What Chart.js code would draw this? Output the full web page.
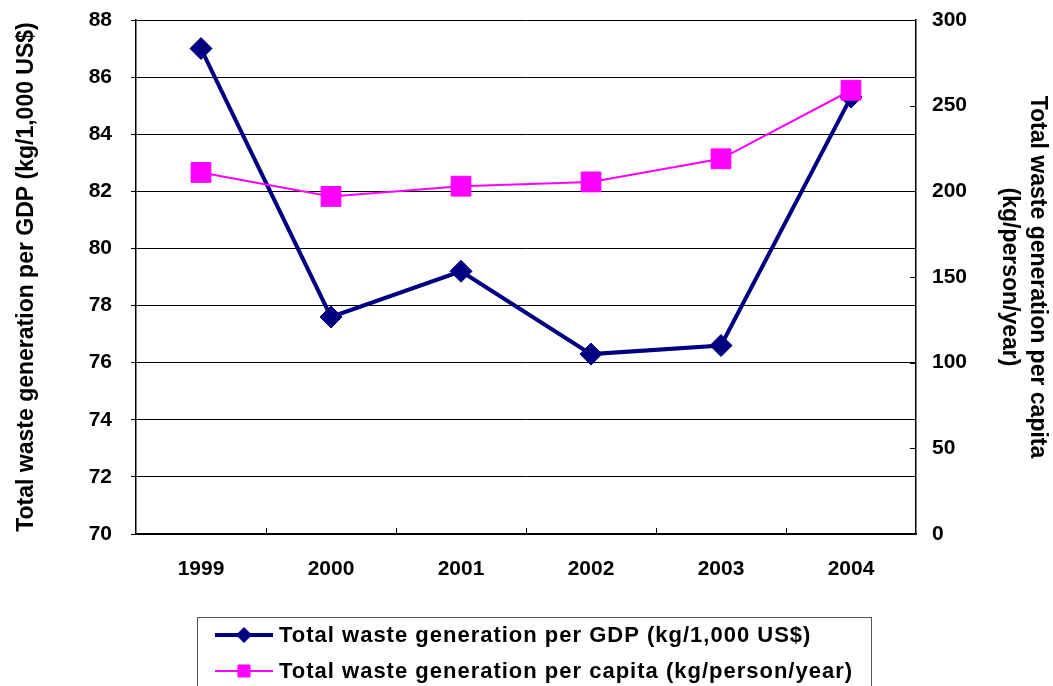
<!DOCTYPE html>
<html>
<head>
<meta charset="utf-8">
<title>Total waste generation</title>
<script src="https://cdn.jsdelivr.net/npm/chart.js@4/dist/chart.umd.min.js"></script>
<style>
  html, body { margin: 0; padding: 0; background: #fff; }
  #chart { display: block; }
</style>
</head>
<body>
<canvas id="chart" width="1053" height="686"></canvas>
<script>
// Years on the category axis
const years = ['1999', '2000', '2001', '2002', '2003', '2004'];
// Total waste generation per GDP (kg/1,000 US$), left axis
const wastePerGdp = [87.0, 77.6, 79.2, 76.3, 76.6, 85.3];
// Total waste generation per capita (kg/person/year), right axis
const wastePerCapita = [211, 197, 203, 205.5, 219, 259];

const gdpLabel = 'Total waste generation per GDP (kg/1,000 US$)';
const capitaLabel = 'Total waste generation per capita (kg/person/year)';
const leftTitle = 'Total waste generation per GDP (kg/1,000 US$)';
const rightTitle = ['Total waste generation per capita', '(kg/person/year)'];

const NAVY = '#000080';
const MAGENTA = '#FF00FF';
const FONT = '"Liberation Sans", Arial, sans-serif';

// Framed legend below the plot, one entry per row
const boxedLegend = {
  id: 'boxedLegend',
  afterDraw(chart) {
    const ctx = chart.ctx;
    ctx.save();
    ctx.strokeStyle = '#555';
    ctx.lineWidth = 1;
    ctx.strokeRect(197.5, 617.5, 674, 90);
    const rows = [
      { ds: chart.data.datasets[0], y: 635, lw: 4, style: 'rectRot', r: 7.5 },
      { ds: chart.data.datasets[1], y: 671, lw: 2, style: 'rect', r: 8.5 }
    ];
    ctx.font = 'bold 22px ' + FONT;
    ctx.textBaseline = 'middle';
    ctx.textAlign = 'left';
    if ('letterSpacing' in ctx) ctx.letterSpacing = '1px';
    rows.forEach(row => {
      ctx.strokeStyle = row.ds.borderColor;
      ctx.lineWidth = row.lw;
      ctx.beginPath();
      ctx.moveTo(215, row.y);
      ctx.lineTo(273, row.y);
      ctx.stroke();
      ctx.fillStyle = row.ds.borderColor;
      ctx.lineWidth = 1;
      Chart.helpers.drawPoint(ctx, { pointStyle: row.style, radius: row.r, borderWidth: 1, rotation: 0 }, 244, row.y);
      ctx.fillStyle = '#000';
      ctx.fillText(row.ds.label, 279, row.y + 1);
    });
    ctx.restore();
  }
};

// Short tick marks pointing into the plot: category dividers on the x axis,
// value marks on the right-hand axis
const innerTicks = {
  id: 'innerTicks',
  afterDatasetsDraw(chart) {
    const ctx = chart.ctx;
    const area = chart.chartArea;
    const xs = chart.scales.x;
    const y1 = chart.scales.y1;
    ctx.save();
    ctx.strokeStyle = '#000';
    ctx.lineWidth = 1;
    ctx.beginPath();
    for (let i = 1; i < xs.ticks.length; i++) {
      const px = Math.round((xs.getPixelForTick(i - 1) + xs.getPixelForTick(i)) / 2) + 0.5;
      ctx.moveTo(px, area.bottom);
      ctx.lineTo(px, area.bottom - 6);
    }
    y1.ticks.forEach(t => {
      const py = Math.round(y1.getPixelForValue(t.value)) + 0.5;
      ctx.moveTo(area.right, py);
      ctx.lineTo(area.right - 6, py);
    });
    ctx.stroke();
    ctx.restore();
  }
};

const whiteBackground = {
  id: 'whiteBackground',
  beforeDraw(chart) {
    const ctx = chart.ctx;
    ctx.save();
    ctx.fillStyle = '#fff';
    ctx.fillRect(0, 0, chart.width, chart.height);
    ctx.restore();
  }
};

// Keep the plot edges fixed regardless of tick label overhang
function pinVertical(scale, width) {
  scale.width = width;
  scale.paddingTop = 0;
  scale.paddingBottom = 0;
}

new Chart(document.getElementById('chart'), {
  type: 'line',
  data: {
    labels: years,
    datasets: [
      {
        label: gdpLabel,
        data: wastePerGdp,
        yAxisID: 'y',
        borderColor: NAVY,
        backgroundColor: NAVY,
        borderWidth: 4,
        pointStyle: 'rectRot',
        pointRadius: 11,
        pointHoverRadius: 11,
        pointBorderWidth: 1,
        tension: 0,
        order: 1,
        clip: false
      },
      {
        label: capitaLabel,
        data: wastePerCapita,
        yAxisID: 'y1',
        borderColor: MAGENTA,
        backgroundColor: MAGENTA,
        borderWidth: 2,
        pointStyle: 'rect',
        pointRadius: 14,
        pointHoverRadius: 14,
        pointBorderWidth: 1,
        tension: 0,
        order: 0,
        clip: false
      }
    ]
  },
  options: {
    responsive: false,
    animation: false,
    layout: { padding: { top: 20, left: 0, right: 0, bottom: 0 } },
    plugins: {
      legend: { display: false },
      tooltip: { enabled: false }
    },
    scales: {
      x: {
        type: 'category',
        offset: true,
        grid: {
          offset: true,
          display: false
        },
        border: { display: true, color: '#000', width: 1.5 },
        ticks: {
          color: '#000',
          font: { family: FONT, size: 21, weight: 'bold' },
          padding: 15,
          maxRotation: 0
        },
        afterFit(scale) {
          scale.height = 152;
          scale.paddingLeft = 0;
          scale.paddingRight = 0;
        }
      },
      y: {
        position: 'left',
        min: 70,
        max: 88,
        ticks: {
          stepSize: 2,
          color: '#000',
          font: { family: FONT, size: 21, weight: 'bold' },
          padding: 19
        },
        grid: {
          color: '#000',
          lineWidth: 1,
          tickLength: 5
        },
        border: { display: true, color: '#000', width: 1.5 },
        title: {
          display: true,
          text: leftTitle,
          color: '#000',
          font: { family: FONT, size: 23, weight: 'bold', lineHeight: 1.2 },
          padding: { top: 13, bottom: 0 }
        },
        afterFit(scale) { pinVertical(scale, 136); }
      },
      y1: {
        position: 'right',
        min: 0,
        max: 300,
        ticks: {
          stepSize: 50,
          color: '#000',
          font: { family: FONT, size: 21, weight: 'bold' },
          padding: 16
        },
        grid: {
          drawOnChartArea: false,
          drawTicks: false
        },
        border: { display: true, color: '#000', width: 1.5 },
        title: {
          display: true,
          text: rightTitle,
          color: '#000',
          font: { family: FONT, size: 23, weight: 'bold', lineHeight: 1.2 },
          padding: { top: 2, bottom: 0 }
        },
        afterFit(scale) { pinVertical(scale, 137); }
      }
    }
  },
  plugins: [whiteBackground, innerTicks, boxedLegend]
});
</script>
</body>
</html>
